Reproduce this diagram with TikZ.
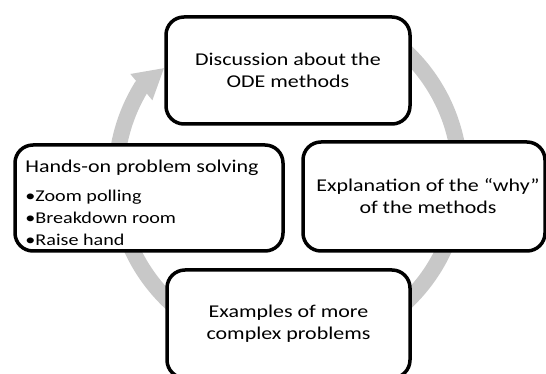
\documentclass[tikz,border=0pt]{standalone}
\usepackage{fontspec}
\setmainfont[FakeStretch=1.22]{Carlito}
\usetikzlibrary{arrows.meta}
\definecolor{ringgray}{RGB}{200,200,200}
\newcommand\bulfont{\fontsize{16.5}{22.5}\selectfont}
\begin{document}
\begin{tikzpicture}[x=1pt,y=1pt,
  card/.style={draw=black, line width=3.5pt, rounded corners=18pt, fill=white, inner sep=0pt},
  cardtext/.style={font=\fontsize{18}{22}\selectfont, align=center},
  ring/.style={draw=ringgray, line width=16pt}]
\useasboundingbox (0,0) rectangle (546,374);
\coordinate (ctr) at (288,197);
\draw[ring, -{Triangle[length=30pt,width=32pt]}] (ctr) ++(60:172) arc[start angle=420, end angle=148.5, radius=172] -- ++(40:30);
\node[card, cardtext, minimum width=244pt, minimum height=107pt] (top) at (288,303.5) {Discussion about the\\ODE methods};
\node[card, cardtext, minimum width=242pt, minimum height=109pt] (right) at (424,177.5) {\hspace*{8pt}Explanation of the “why”\\\hspace*{8pt}of the methods};
\node[card, cardtext, minimum width=243pt, minimum height=108pt] (bottom) at (288.5,50) {Examples of more\\complex problems};
\node[card, minimum width=268pt, minimum height=106pt] (left) at (149,176) {};
\node[anchor=north west, align=left, inner sep=0pt, font=\fontsize{18}{22}\selectfont] (ltext) at ([xshift=12pt, yshift=-17pt]left.north west) {Hands-on problem solving\\[6.5pt]\bulfont •Zoom polling\\\bulfont •Breakdown room\\\bulfont •Raise hand};
\end{tikzpicture}
\end{document}
